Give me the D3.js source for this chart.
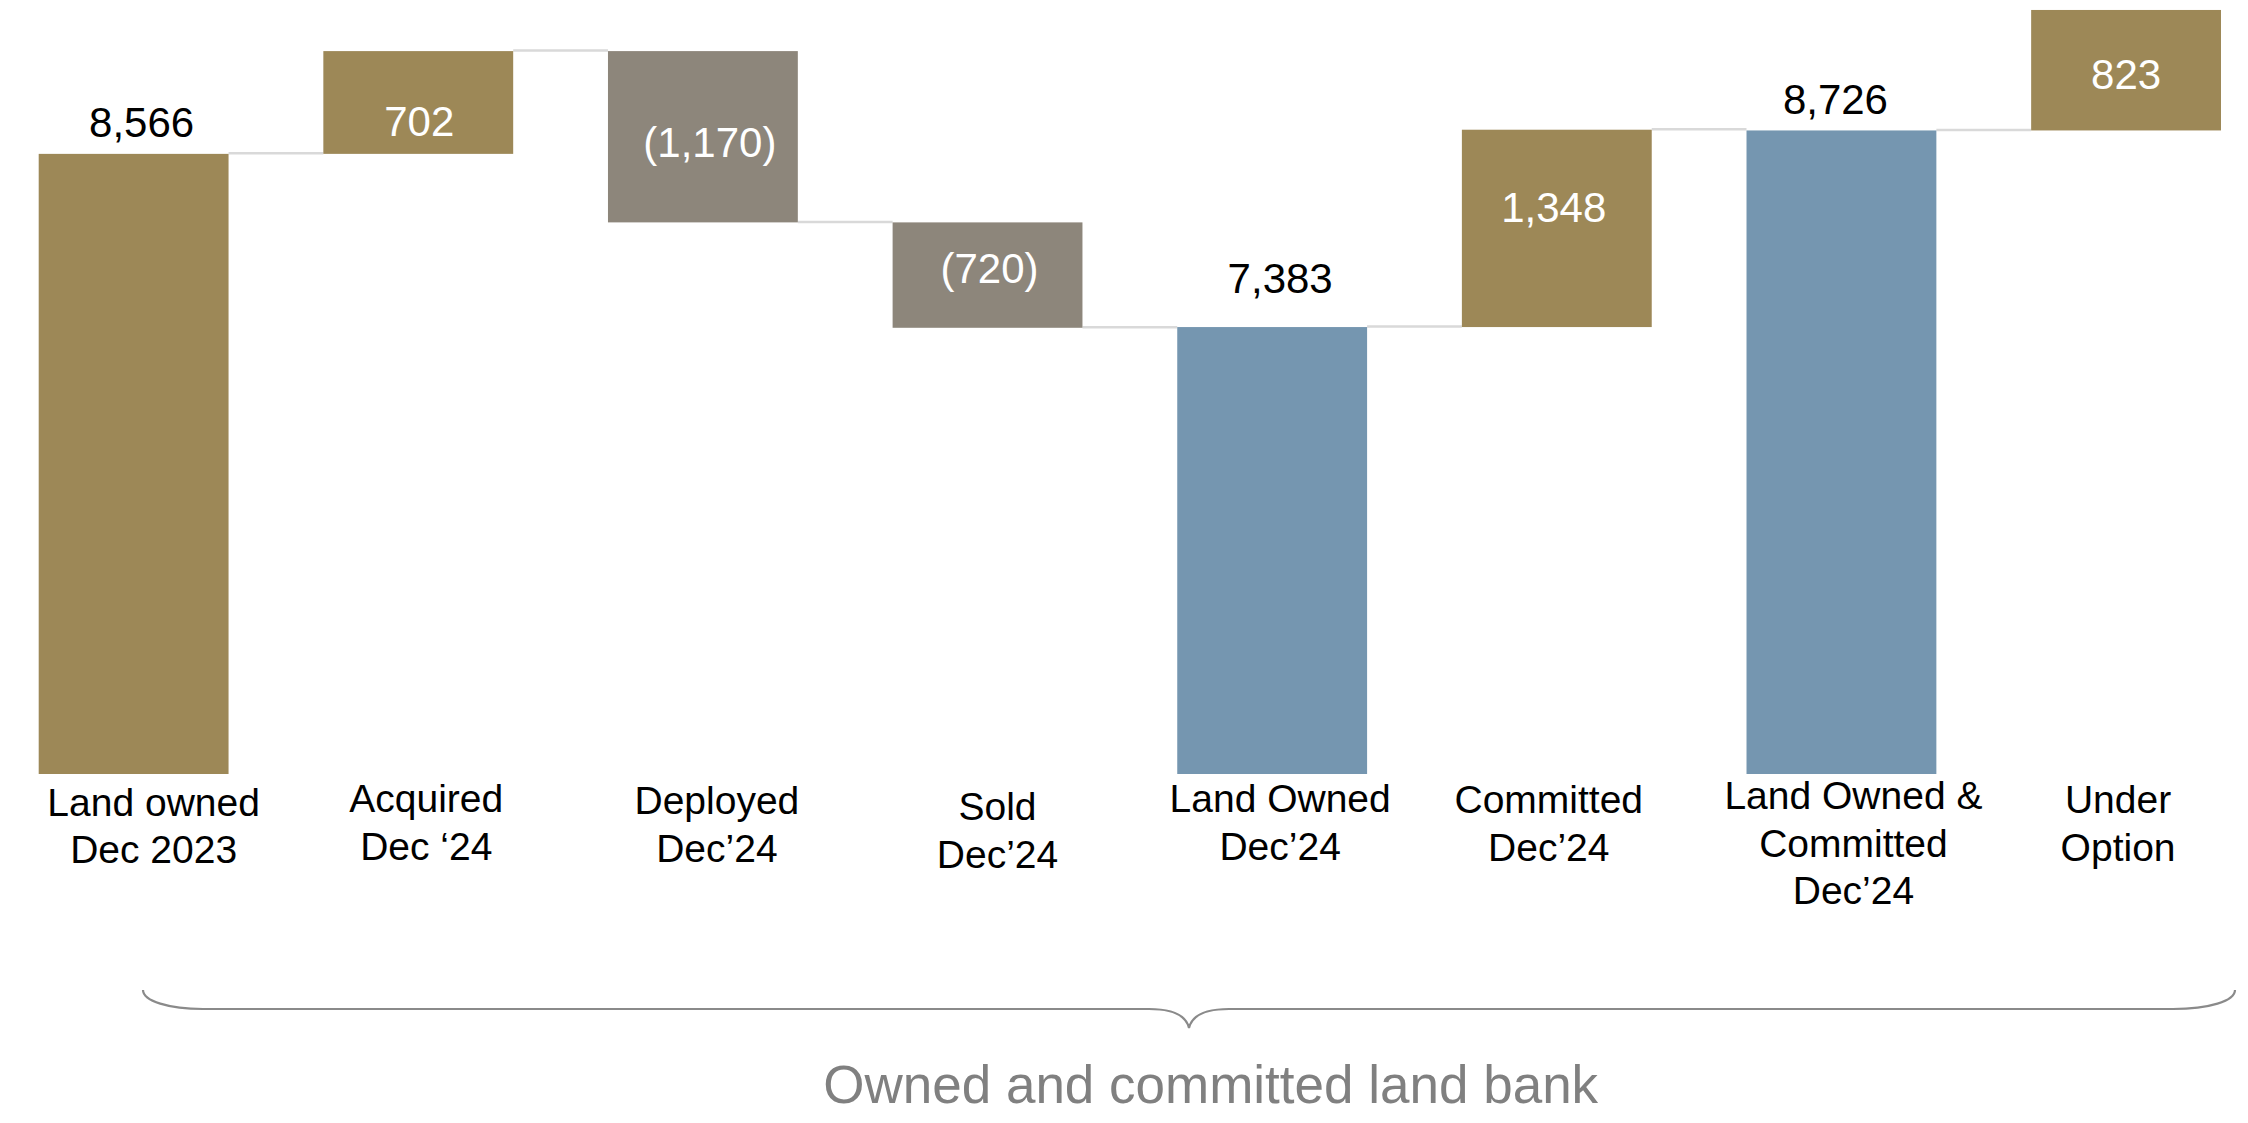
<!DOCTYPE html>
<html>
<head>
<meta charset="utf-8">
<script src="https://cdn.jsdelivr.net/npm/d3@7"></script>
<style>
  html, body { margin: 0; padding: 0; background: #ffffff; }
  svg { display: block; }
</style>
</head>
<body>
<script>
// Land bank waterfall (plots)
const categories = [
  ["Land owned", "Dec 2023"],
  ["Acquired", "Dec \u201824"],
  ["Deployed", "Dec\u201924"],
  ["Sold", "Dec\u201924"],
  ["Land Owned", "Dec\u201924"],
  ["Committed", "Dec\u201924"],
  ["Land Owned &", "Committed", "Dec\u201924"],
  ["Under", "Option"]
];
const values = [8566, 702, -1170, -720, 7383, 1348, 8726, 823];
const barKinds = ["start", "up", "down", "down", "total", "up", "total", "up"];
const braceTitle = "Owned and committed land bank";

// ---- layout ----
const W = 2248, H = 1123;
const FONT = "'Liberation Sans', Arial, Helvetica, sans-serif";
const colors = { start: "#9D8857", up: "#9D8857", down: "#8D867B", total: "#7596B0" };

// value axis is truncated: bars start from axisMin, not zero
const axisMin = 4330, axisMax = 9600;

const svg = d3.select("body").append("svg")
  .attr("width", W).attr("height", H)
  .attr("viewBox", `0 0 ${W} ${H}`);

svg.append("rect").attr("width", W).attr("height", H).attr("fill", "#ffffff");

const x = d3.scaleBand()
  .domain(d3.range(categories.length))
  .range([38.7, 2221])
  .paddingInner(0.333)
  .paddingOuter(0);

const y = d3.scaleLinear().domain([axisMin, axisMax]).range([774, 2.5]);

// running totals for the waterfall
let running = 0;
const bars = values.map((v, i) => {
  const kind = barKinds[i];
  let lo, hi;
  if (kind === "start" || kind === "total") {
    lo = axisMin; hi = v; running = v;
  } else {
    lo = running; hi = running + v; running = hi;
  }
  return { i, v, kind, bottom: Math.min(lo, hi), top: Math.max(lo, hi), level: running };
});

// connector lines between neighbouring bars
const connectors = bars.slice(0, -1).map((b, i) => ({
  x1: x(i) + x.bandwidth(),
  x2: x(i + 1),
  level: b.level
}));

svg.append("g").selectAll("line")
  .data(connectors)
  .join("line")
  .attr("x1", d => d.x1)
  .attr("x2", d => d.x2)
  .attr("y1", d => y(d.level) - 0.5)
  .attr("y2", d => y(d.level) - 0.5)
  .attr("stroke", "#D9D9D9")
  .attr("stroke-width", 2.5);

svg.append("g").selectAll("rect")
  .data(bars)
  .join("rect")
  .attr("x", d => x(d.i))
  .attr("width", x.bandwidth())
  .attr("y", d => y(d.top))
  .attr("height", d => y(d.bottom) - y(d.top))
  .attr("fill", d => colors[d.kind]);

// value labels: totals above the bar in black, movements inside in white
const fmt = d3.format(",");
const labelText = v => v < 0 ? `(${fmt(-v)})` : fmt(v);
const valueDx = [8, 1, 7, 2, 8, -3, -6, 0];
const valueDy = [0, 19, 5, -7, -17, -21, 1, 4];

svg.append("g").selectAll("text")
  .data(bars)
  .join("text")
  .attr("x", d => x(d.i) + x.bandwidth() / 2 + valueDx[d.i])
  .attr("y", d => {
    const outside = d.kind === "start" || d.kind === "total";
    const base = outside
      ? y(d.top) - 17
      : (y(d.top) + y(d.bottom)) / 2 + 15;
    return base + valueDy[d.i];
  })
  .attr("text-anchor", "middle")
  .attr("font-family", FONT)
  .attr("font-size", 42)
  .attr("fill", d => (d.kind === "start" || d.kind === "total") ? "#000000" : "#ffffff")
  .text(d => labelText(d.v));

// category labels under the bars
const catDx = [20, 8, 14, 10, 8, -8, 12, -8];
const catDy = [2.5, -1, 1, 7, -1, 0, -4, 0];
const catBaseline = 813, catLineH = 47.5;

const catG = svg.append("g").selectAll("text")
  .data(categories)
  .join("text")
  .attr("x", (d, i) => x(i) + x.bandwidth() / 2 + catDx[i])
  .attr("y", (d, i) => catBaseline + catDy[i])
  .attr("text-anchor", "middle")
  .attr("font-family", FONT)
  .attr("font-size", 39)
  .attr("fill", "#000000");

catG.selectAll("tspan")
  .data((d, i) => d.map(line => ({ line, i })))
  .join("tspan")
  .attr("x", d => x(d.i) + x.bandwidth() / 2 + catDx[d.i])
  .attr("dy", (d, j) => j === 0 ? 0 : catLineH)
  .text(d => d.line);

// curly brace spanning the owned and committed land bank
const braceY = 1009, braceTop = 990, tipX = 1189, tipY = 1028;
const braceL = 143, braceR = 2235;
const bracePath = [
  `M${braceL},${braceTop}`,
  `C${braceL},${braceTop + 11} ${braceL + 26},${braceY} ${braceL + 60},${braceY}`,
  `L${tipX - 40},${braceY}`,
  `C${tipX - 18},${braceY} ${tipX - 3},${braceY + 6} ${tipX},${tipY}`,
  `C${tipX + 3},${braceY + 6} ${tipX + 18},${braceY} ${tipX + 40},${braceY}`,
  `L${braceR - 62},${braceY}`,
  `C${braceR - 26},${braceY} ${braceR},${braceTop + 11} ${braceR},${braceTop}`
].join(" ");

svg.append("path")
  .attr("d", bracePath)
  .attr("fill", "none")
  .attr("stroke", "#8A8A8A")
  .attr("stroke-width", 2.2);

svg.append("text")
  .attr("x", 1210.7)
  .attr("y", 1103)
  .attr("text-anchor", "middle")
  .attr("font-family", FONT)
  .attr("font-size", 53)
  .attr("fill", "#808080")
  .text(braceTitle);
</script>
</body>
</html>
